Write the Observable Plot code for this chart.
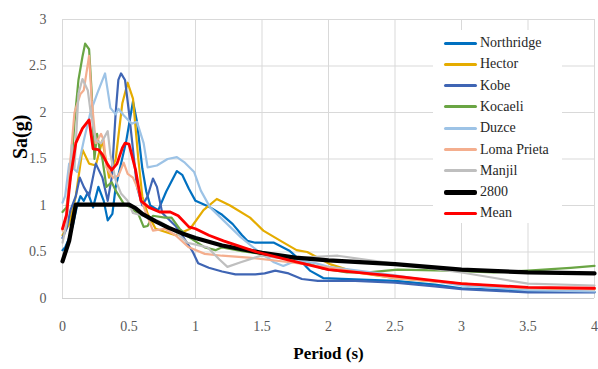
<!DOCTYPE html>
<html>
<head>
<meta charset="utf-8">
<script src="https://cdn.jsdelivr.net/npm/d3@7"></script>
<script src="https://cdn.jsdelivr.net/npm/@observablehq/plot@0.6"></script>
<style>
  html, body { margin: 0; padding: 0; background: #fff; }
  #wrap { position: relative; width: 598px; height: 369px; font-family: "Liberation Serif", Tinos, "Times New Roman", Times, "Nimbus Roman", "DejaVu Serif", serif; }
  #legend { position: absolute; left: 433px; top: 30px; width: 129px; height: 193px; background: #fff; }
  .item { position: absolute; left: 11px; height: 20px; display: flex; align-items: center; }
  .swatch { width: 33px; border-radius: 2px; margin-right: 3px; }
  .lbl { font-size: 14px; color: #262626; white-space: nowrap; }
  svg text { font-family: "Liberation Serif", Tinos, "Times New Roman", Times, "Nimbus Roman", "DejaVu Serif", serif; }
</style>
</head>
<body>
<div id="wrap"></div>
<script>
// ---- data (period T in s, Sa in g) ----
const seriesNames = ["Northridge", "Hector", "Kobe", "Kocaeli", "Duzce", "Loma Prieta", "Manjil", "2800", "Mean"];
const seriesColors = ["#0070C0", "#E5AC00", "#3F65B4", "#6AA544", "#9DC3E6", "#F4AE8E", "#BFBFBF", "#000000", "#FF0000"];
const seriesWidths = [2.2, 2.2, 2.2, 2.2, 2.2, 2.2, 2.2, 4.2, 2.8];

const xTicks = [0, 0.5, 1, 1.5, 2, 2.5, 3, 3.5, 4];
const yTicks = [0, 0.5, 1, 1.5, 2, 2.5, 3];

const northridge = [[0,0.52],[0.02,0.55],[0.05,0.65],[0.08,0.8],[0.11,1.0],[0.135,1.1],[0.16,1.05],[0.19,1.14],[0.23,0.98],[0.27,1.2],[0.31,1.05],[0.34,0.84],[0.375,0.91],[0.4,1.2],[0.44,1.45],[0.48,1.7],[0.53,2.12],[0.56,1.9],[0.6,1.4],[0.63,1.15],[0.66,1.0],[0.72,0.95],[0.78,1.15],[0.86,1.37],[0.9,1.33],[0.95,1.18],[1.0,1.05],[1.11,0.98],[1.2,0.9],[1.28,0.8],[1.35,0.68],[1.39,0.62],[1.45,0.6],[1.59,0.6],[1.71,0.51],[1.78,0.42],[1.86,0.3],[1.96,0.22],[2.1,0.21],[2.5,0.19],[2.8,0.15],[3.0,0.11],[3.5,0.08],[4.0,0.07]];
const hector = [[0,0.68],[0.05,0.8],[0.1,1.1],[0.15,1.6],[0.2,1.45],[0.25,1.43],[0.3,1.7],[0.35,1.3],[0.4,1.5],[0.45,2.1],[0.49,2.32],[0.53,2.15],[0.57,1.5],[0.6,1.1],[0.64,0.91],[0.7,0.75],[0.85,0.68],[0.96,0.75],[1.06,0.95],[1.16,1.07],[1.26,1.0],[1.41,0.87],[1.51,0.73],[1.64,0.62],[1.76,0.52],[1.84,0.5],[2.01,0.37],[2.21,0.28],[2.5,0.22],[3.0,0.16],[3.5,0.11],[4.0,0.1]];
const kobe = [[0,0.65],[0.03,0.75],[0.06,0.95],[0.1,1.1],[0.13,1.3],[0.16,1.2],[0.2,1.1],[0.25,1.45],[0.3,1.3],[0.34,1.05],[0.37,1.3],[0.4,2.0],[0.42,2.35],[0.44,2.42],[0.47,2.35],[0.5,2.0],[0.53,1.6],[0.56,1.2],[0.6,1.0],[0.64,1.1],[0.68,1.29],[0.71,1.2],[0.75,0.92],[0.8,0.85],[0.85,0.78],[0.9,0.68],[0.98,0.5],[1.02,0.38],[1.1,0.33],[1.2,0.29],[1.3,0.26],[1.45,0.26],[1.52,0.27],[1.6,0.3],[1.7,0.27],[1.8,0.21],[1.92,0.19],[2.2,0.19],[2.5,0.17],[2.8,0.13],[3.0,0.1],[3.3,0.08],[3.5,0.065],[4.0,0.065]];
const kocaeli = [[0,0.93],[0.03,0.98],[0.06,1.3],[0.09,1.9],[0.12,2.35],[0.15,2.6],[0.17,2.74],[0.2,2.68],[0.22,2.2],[0.24,1.5],[0.26,1.77],[0.28,1.6],[0.3,1.5],[0.33,1.2],[0.37,1.25],[0.4,1.16],[0.46,1.02],[0.51,0.98],[0.57,0.91],[0.61,0.77],[0.64,0.78],[0.68,0.89],[0.77,0.87],[0.82,0.87],[0.88,0.75],[0.95,0.66],[1.07,0.55],[1.15,0.52],[1.2,0.55],[1.35,0.51],[1.59,0.46],[1.8,0.4],[1.96,0.32],[2.14,0.28],[2.3,0.28],[2.52,0.31],[2.9,0.3],[3.24,0.28],[3.5,0.3],[3.82,0.33],[4.0,0.35]];
const duzce = [[0,1.03],[0.02,1.1],[0.05,1.45],[0.08,1.4],[0.11,1.36],[0.16,1.7],[0.21,2.0],[0.26,2.2],[0.32,2.42],[0.36,2.05],[0.4,1.98],[0.42,2.04],[0.46,1.97],[0.52,1.88],[0.56,1.9],[0.61,1.67],[0.64,1.41],[0.71,1.43],[0.79,1.5],[0.86,1.52],[0.92,1.46],[0.99,1.36],[1.04,1.16],[1.11,0.98],[1.21,0.84],[1.34,0.66],[1.46,0.52],[1.59,0.39],[1.66,0.35],[1.76,0.41],[1.9,0.38],[2.0,0.34],[2.5,0.25],[3.0,0.14],[3.5,0.09],[4.0,0.075]];
const lomaPrieta = [[0,0.73],[0.03,0.9],[0.06,1.5],[0.09,2.0],[0.135,2.2],[0.16,2.24],[0.2,2.61],[0.22,2.13],[0.25,1.67],[0.29,1.77],[0.31,1.7],[0.33,1.41],[0.38,1.3],[0.42,1.32],[0.46,1.46],[0.49,1.34],[0.53,1.3],[0.56,1.2],[0.62,0.95],[0.68,0.73],[0.77,0.75],[0.85,0.68],[0.95,0.55],[1.07,0.48],[1.2,0.46],[1.4,0.44],[1.71,0.39],[2.07,0.32],[2.5,0.22],[3.0,0.16],[3.5,0.11],[4.0,0.1]];
const manjil = [[0,0.6],[0.03,0.8],[0.05,1.2],[0.07,1.65],[0.09,1.4],[0.12,2.2],[0.15,2.36],[0.19,2.24],[0.21,2.02],[0.25,1.7],[0.29,1.67],[0.34,1.8],[0.36,1.55],[0.4,1.27],[0.44,1.13],[0.49,1.05],[0.53,0.92],[0.66,0.87],[0.74,0.82],[0.84,0.73],[0.94,0.6],[1.09,0.55],[1.18,0.42],[1.24,0.34],[1.34,0.39],[1.49,0.46],[1.61,0.44],[1.8,0.44],[2.07,0.46],[2.52,0.37],[3.0,0.28],[3.25,0.22],[3.5,0.16],[4.0,0.14]];
const code2800 = [[0,0.4],[0.05,0.62],[0.1,1.01],[0.5,1.01],[0.55,0.97],[0.6,0.91],[0.7,0.83],[0.8,0.76],[0.9,0.7],[1.0,0.65],[1.2,0.57],[1.5,0.49],[1.75,0.44],[2.0,0.41],[2.5,0.37],[3.0,0.31],[3.5,0.28],[4.0,0.27]];
const mean = [[0,0.75],[0.03,0.9],[0.06,1.3],[0.1,1.67],[0.15,1.83],[0.2,1.92],[0.23,1.61],[0.27,1.6],[0.3,1.55],[0.34,1.44],[0.37,1.38],[0.41,1.45],[0.45,1.62],[0.47,1.67],[0.5,1.66],[0.55,1.38],[0.59,1.05],[0.65,0.98],[0.73,0.93],[0.81,0.93],[0.87,0.89],[0.95,0.77],[1.0,0.75],[1.1,0.68],[1.21,0.62],[1.46,0.5],[1.71,0.41],[2.0,0.31],[2.5,0.24],[3.0,0.16],[3.5,0.12],[4.0,0.11]];

const seriesData = [northridge, hector, kobe, kocaeli, duzce, lomaPrieta, manjil, code2800, mean];

const serifStack = "'Liberation Serif', Tinos, 'Times New Roman', Times, 'Nimbus Roman', 'DejaVu Serif', serif";
const fmt = d => String(d);

// ---- chart ----
const lineMarks = seriesData.map((pts, i) =>
  Plot.line(pts, {x: d => d[0], y: d => d[1], stroke: seriesColors[i], strokeWidth: seriesWidths[i], strokeLinejoin: "round", curve: "linear"})
);

const chart = Plot.plot({
  width: 598,
  height: 369,
  marginLeft: 62,
  marginRight: 4,
  marginTop: 19,
  marginBottom: 71,
  style: {fontFamily: serifStack, fontSize: "14px", color: "#595959", background: "#fff", overflow: "visible"},
  x: {domain: [0, 4], label: null},
  y: {domain: [0, 3], label: null},
  marks: [
    Plot.gridX(xTicks, {stroke: "#d9d9d9", strokeOpacity: 1, strokeWidth: 1}),
    Plot.gridY(yTicks, {stroke: "#d9d9d9", strokeOpacity: 1, strokeWidth: 1}),
    Plot.ruleY([0], {stroke: "#d0d0d0", strokeWidth: 1.2}),
    Plot.axisX(xTicks, {tickSize: 0, tickPadding: 23, fontSize: 14, fill: "#595959", label: null, tickFormat: fmt}),
    Plot.axisY(yTicks, {tickSize: 0, tickPadding: 16, fontSize: 14, fill: "#595959", label: null, tickFormat: fmt}),
    ...lineMarks,
    Plot.text(["Period (s)"], {frameAnchor: "bottom", dy: 60, fontSize: 17, fontWeight: "bold", fill: "#000"}),
    Plot.text(["Sa(g)"], {frameAnchor: "left", dx: -42, rotate: -90, fontSize: 20, fontWeight: "bold", fill: "#000"})
  ]
});

const wrap = document.getElementById("wrap");
wrap.appendChild(chart);

// ---- legend (overlay in the plot area, like the original) ----
const legend = document.createElement("div");
legend.id = "legend";
seriesNames.forEach((name, i) => {
  const item = document.createElement("div");
  item.className = "item";
  item.style.top = (13 + i * 21.3 - 10) + "px";
  const sw = document.createElement("div");
  sw.className = "swatch";
  sw.style.height = (i === 7 ? 5 : 3) + "px";
  sw.style.background = seriesColors[i];
  const lb = document.createElement("span");
  lb.className = "lbl";
  lb.textContent = name;
  item.appendChild(sw);
  item.appendChild(lb);
  legend.appendChild(item);
});
wrap.appendChild(legend);
</script>
</body>
</html>
